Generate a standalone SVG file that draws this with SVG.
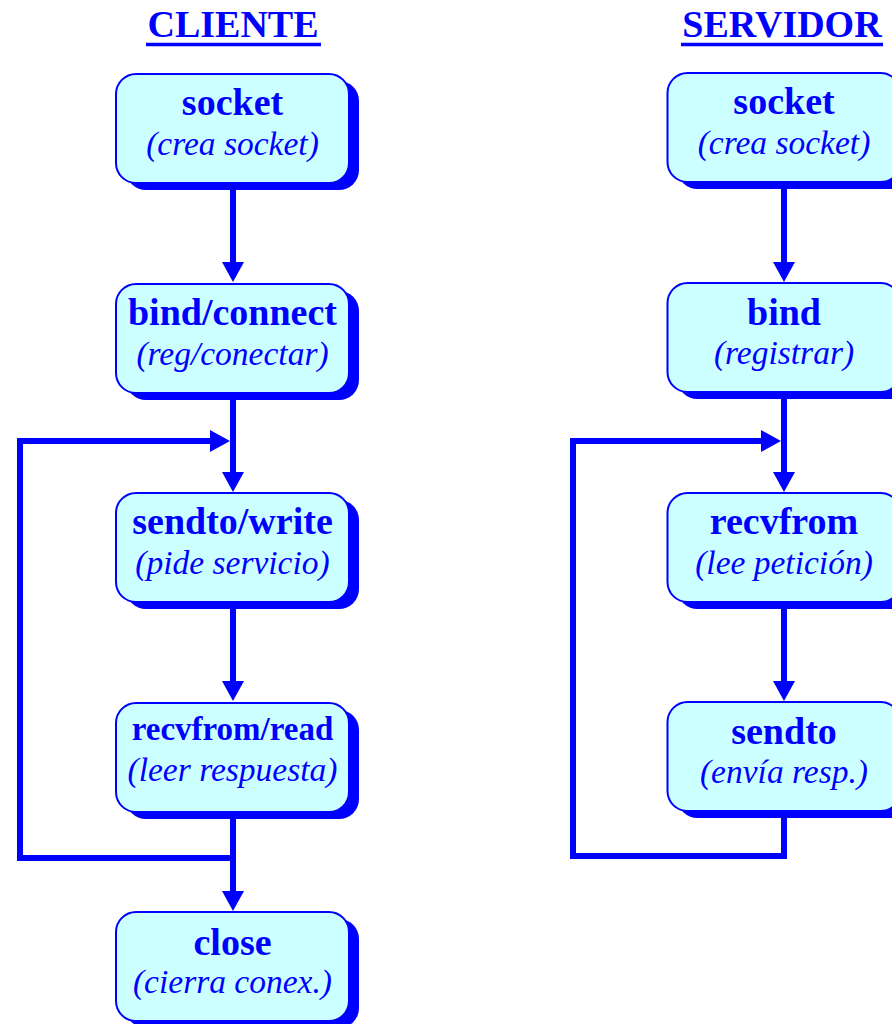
<svg xmlns="http://www.w3.org/2000/svg" width="892" height="1024" viewBox="0 0 892 1024">
  <defs>
    <style>
      .title { font-family: "Liberation Serif", "Times New Roman", serif; font-weight: bold; font-size: 38px; fill: #0000ff; text-anchor: middle; }
      .uline { stroke: #0000ff; stroke-width: 3.5; }
      .shadow { fill: #0000ff; }
      .box { fill: #ccffff; stroke: #0000ff; stroke-width: 2; }
      .name { font-family: "Liberation Serif", "Times New Roman", serif; font-weight: bold; font-size: 38px; fill: #0000ff; text-anchor: middle; }
      .desc { font-family: "Liberation Serif", "Times New Roman", serif; font-style: italic; font-size: 33.5px; fill: #0000ff; text-anchor: middle; }
      .wire { fill: none; stroke: #0000ff; stroke-width: 6; stroke-linejoin: miter; }
    </style>
    <!-- arrowhead starts where the line stops and extends 20px past it -->
    <marker id="arrow" markerUnits="userSpaceOnUse" markerWidth="20" markerHeight="22" viewBox="0 0 20 22" refX="0" refY="11" orient="auto" overflow="visible">
      <path d="M0,0 L20,11 L0,22 Z" fill="#0000ff"/>
    </marker>
    <!-- node shape: shadow + rounded box, 233 x 109 -->
    <g id="nodebox">
      <rect class="shadow" x="10" y="7" width="233" height="109" rx="20" ry="20"/>
      <rect class="box" x="0" y="0" width="233" height="109" rx="20" ry="20"/>
    </g>
  </defs>

  <!-- column headings -->
  <g id="heading-cliente">
    <text class="title" x="233" y="37">CLIENTE</text>
    <line class="uline" x1="146" y1="44.5" x2="321" y2="44.5"/>
  </g>
  <g id="heading-servidor">
    <text class="title" x="782" y="37">SERVIDOR</text>
    <line class="uline" x1="681" y1="44.5" x2="883" y2="44.5"/>
  </g>

  <!-- connectors (line ends 20px short of the tip; the marker fills the rest) -->
  <g id="connectors">
    <!-- client flow -->
    <line class="wire" x1="233" y1="186" x2="233" y2="262" marker-end="url(#arrow)"/>
    <line class="wire" x1="233" y1="396" x2="233" y2="472" marker-end="url(#arrow)"/>
    <line class="wire" x1="233" y1="605" x2="233" y2="681" marker-end="url(#arrow)"/>
    <line class="wire" x1="233" y1="815" x2="233" y2="891" marker-end="url(#arrow)"/>
    <!-- client loop back -->
    <polyline class="wire" points="233,858 20,858 20,441 210,441" marker-end="url(#arrow)"/>

    <!-- server flow -->
    <line class="wire" x1="784" y1="186" x2="784" y2="262" marker-end="url(#arrow)"/>
    <line class="wire" x1="784" y1="396" x2="784" y2="472" marker-end="url(#arrow)"/>
    <line class="wire" x1="784" y1="605" x2="784" y2="681" marker-end="url(#arrow)"/>
    <!-- server loop back -->
    <polyline class="wire" points="784,812 784,856 573,856 573,441 761,441" marker-end="url(#arrow)"/>
  </g>

  <!-- client nodes -->
  <g id="c-socket" transform="translate(116,74)">
    <use href="#nodebox"/>
    <text class="name" x="116.5" y="41">socket</text>
    <text class="desc" x="116.5" y="81">(crea socket)</text>
  </g>
  <g id="c-bind" transform="translate(116,284)">
    <use href="#nodebox"/>
    <text class="name" x="116.5" y="41">bind/connect</text>
    <text class="desc" x="116.5" y="81">(reg/conectar)</text>
  </g>
  <g id="c-sendto" transform="translate(116,493)">
    <use href="#nodebox"/>
    <text class="name" x="116.5" y="41">sendto/write</text>
    <text class="desc" x="116.5" y="81">(pide servicio)</text>
  </g>
  <g id="c-recvfrom" transform="translate(116,703)">
    <use href="#nodebox"/>
    <text class="name" x="116.5" y="37" style="font-size:33px">recvfrom/read</text>
    <text class="desc" x="116.5" y="78">(leer respuesta)</text>
  </g>
  <g id="c-close" transform="translate(116,912)">
    <use href="#nodebox"/>
    <text class="name" x="116.5" y="43">close</text>
    <text class="desc" x="116.5" y="81">(cierra conex.)</text>
  </g>

  <!-- server nodes -->
  <g id="s-socket" transform="translate(667.5,73)">
    <use href="#nodebox"/>
    <text class="name" x="116.5" y="41">socket</text>
    <text class="desc" x="116.5" y="81">(crea socket)</text>
  </g>
  <g id="s-bind" transform="translate(667.5,283)">
    <use href="#nodebox"/>
    <text class="name" x="116.5" y="42">bind</text>
    <text class="desc" x="116.5" y="81">(registrar)</text>
  </g>
  <g id="s-recvfrom" transform="translate(667.5,493)">
    <use href="#nodebox"/>
    <text class="name" x="116.5" y="41">recvfrom</text>
    <text class="desc" x="116.5" y="81">(lee petición)</text>
  </g>
  <g id="s-sendto" transform="translate(667.5,702)">
    <use href="#nodebox"/>
    <text class="name" x="116.5" y="42">sendto</text>
    <text class="desc" x="116.5" y="81">(envía resp.)</text>
  </g>
</svg>
